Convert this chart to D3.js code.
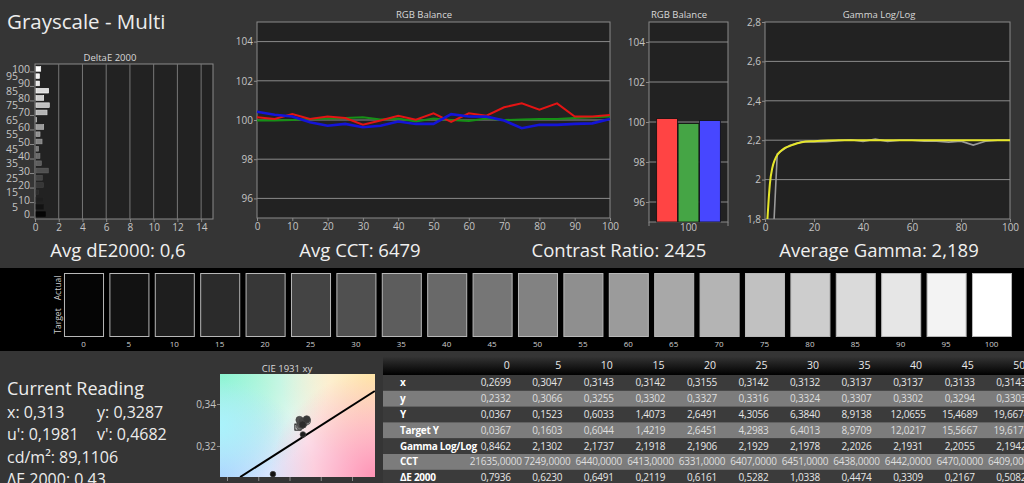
<!DOCTYPE html>
<html>
<head>
<meta charset="utf-8">
<script src="https://cdn.jsdelivr.net/npm/d3@7"></script>
<style>
  body { margin: 0; background: #353535; overflow: hidden; }
  svg { display: block; font-family: "Open Sans", sans-serif; }
  .axis text { fill: #c4c4c4; font-size: 10px; font-family: "Open Sans", sans-serif; }
  .axis path, .axis line { stroke: #8a8a8a; }
  .ctitle { fill: #d8d8d8; font-size: 9.5px; text-anchor: middle; }
  .big { fill: #f0f0f0; font-size: 18.5px; text-anchor: middle; }
</style>
</head>
<body>
<svg id="chart" width="1024" height="483"></svg>
<script>
// stimulus levels (grayscale steps)
const levels = [0, 5, 10, 15, 20, 25, 30, 35, 40, 45, 50, 55, 60, 65, 70, 75, 80, 85, 90, 95, 100];
const deltaE = [0.7936, 0.6230, 0.6491, 0.2119, 0.6161, 0.5282, 1.0338, 0.4474, 0.3309, 0.2167, 0.5082,
  0.34, 0.65, 0.05, 0.93, 1.12, 0.65, 1.07, 0.30, 0.30, 0.40];

const redBalance = [100.14, 100.05, 100.30, 100.05, 100.18, 100.10, 99.76, 99.97, 100.22, 100.02, 100.34,
  99.90, 100.34, 100.22, 100.65, 100.85, 100.53, 100.85, 100.18, 100.18, 100.25];
const greenBalance = [99.98, 99.97, 100.0, 100.05, 100.08, 100.10, 100.14, 100.02, 100.08, 99.92, 100.08,
  100.0, 99.95, 100.08, 100.0, 100.02, 100.05, 100.05, 100.10, 100.14, 100.18];
const blueBalance = [100.42, 100.27, 100.18, 99.88, 99.71, 99.80, 99.63, 99.71, 99.92, 99.80, 99.80,
  100.30, 100.18, 100.17, 99.97, 99.58, 99.76, 99.75, 99.80, 99.83, 100.05];

const balanceBarCategory = ['100'];
const balanceBarValues = [100.17, 99.92, 100.07];

const gammaMeasured = [0.8462, 2.1302, 2.1737, 2.1918, 2.1906, 2.1929, 2.1978, 2.2026, 2.1931, 2.2055, 2.1942,
  2.200, 2.200, 2.195, 2.195, 2.190, 2.195, 2.175, 2.195, 2.200, 2.200];
const gammaTargetX = [1, 2, 3, 4, 5, 6, 8, 10, 15, 20, 30, 100];
const gammaTargetY = [1.80, 1.98, 2.06, 2.10, 2.125, 2.14, 2.16, 2.17, 2.19, 2.195, 2.20, 2.20];

// CIE xy of each step (0..50 from table, rest)
const cieX = [0.2699, 0.3047, 0.3143, 0.3142, 0.3155, 0.3142, 0.3132, 0.3137, 0.3137, 0.3133, 0.3143,
  0.3140, 0.3145, 0.3142, 0.3150, 0.3155, 0.3148, 0.3156, 0.3138, 0.3135, 0.3140];
const cieY = [0.2332, 0.3066, 0.3255, 0.3302, 0.3327, 0.3316, 0.3324, 0.3307, 0.3302, 0.3294, 0.3303,
  0.3305, 0.3310, 0.3308, 0.3315, 0.3318, 0.3312, 0.3320, 0.3300, 0.3298, 0.3302];
const whitePoint = [0.3127, 0.3290];
const locusX = [0.2942, 0.3373];
const locusY = [0.3052, 0.3462];

const tableCols = [0, 5, 10, 15, 20, 25, 30, 35, 40, 45, 50];
const rowLabels = ['x', 'y', 'Y', 'Target Y', 'Gamma Log/Log', 'CCT', 'ΔE 2000'];
const rowX = [0.2699, 0.3047, 0.3143, 0.3142, 0.3155, 0.3142, 0.3132, 0.3137, 0.3137, 0.3133, 0.3143];
const rowY = [0.2332, 0.3066, 0.3255, 0.3302, 0.3327, 0.3316, 0.3324, 0.3307, 0.3302, 0.3294, 0.3303];
const rowLum = [0.0367, 0.1523, 0.6033, 1.4073, 2.6491, 4.3056, 6.3840, 8.9138, 12.0655, 15.4689, 19.6674];
const rowTargetLum = [0.0367, 0.1603, 0.6044, 1.4219, 2.6451, 4.2983, 6.4013, 8.9709, 12.0217, 15.5667, 19.6170];
const rowGamma = [0.8462, 2.1302, 2.1737, 2.1918, 2.1906, 2.1929, 2.1978, 2.2026, 2.1931, 2.2055, 2.1942];
const rowCCT = [21635, 7249, 6440, 6413, 6331, 6407, 6451, 6438, 6442, 6470, 6409];
const rowDE = [0.7936, 0.6230, 0.6491, 0.2119, 0.6161, 0.5282, 1.0338, 0.4474, 0.3309, 0.2167, 0.5082];

const currentReading = [['x: 0,313', 'y: 0,3287'], ["u': 0,1981", "v': 0,4682"], ['cd/m²: 89,1106'], ['ΔE 2000: 0,43']];

const comma = s => String(s).replace('.', ',');
const fmt4 = v => comma(d3.format('.4f')(v));
const grayOf = d3.scaleLinear().domain([0, 100]).range(['#050505', '#ffffff']);

const svg = d3.select('#chart');

// black swatch band
svg.append('rect').attr('x', 0).attr('y', 268).attr('width', 1024).attr('height', 83).attr('fill', '#000');

svg.append('text').attr('x', 7).attr('y', 29).attr('fill', '#ececec').style('font-size', '20.5px')
  .text('Grayscale - Multi');

function frame(x0, x1, y0, y1) {
  svg.append('rect').attr('x', x0).attr('y', y0).attr('width', x1 - x0).attr('height', y1 - y0)
    .attr('fill', '#222').attr('stroke', '#8a8a8a');
}

// ---------- DeltaE 2000 ----------
{
  const x = d3.scaleLinear().domain([0, 15]).range([35, 213]);
  const y = d3.scaleBand().domain(levels.slice().reverse()).range([64, 219]).padding(0.35);
  frame(35, 213, 64, 219);
  svg.append('g').selectAll('line').data(d3.range(2, 15, 2)).join('line')
    .attr('x1', d => x(d)).attr('x2', d => x(d)).attr('y1', 64).attr('y2', 219)
    .attr('stroke', '#777');
  svg.append('g').attr('class', 'axis').attr('transform', 'translate(0,219)')
    .call(d3.axisBottom(x).tickValues(d3.range(0, 15, 2)).tickSize(3).tickPadding(2))
    .call(g => g.select('.domain').remove());
  svg.append('g').selectAll('rect').data(levels).join('rect')
    .attr('x', x(0) + 1).attr('y', (d) => y(d))
    .attr('width', (d, i) => x(deltaE[i]) - x(0)).attr('height', y.bandwidth())
    .attr('fill', d => grayOf(d)).attr('stroke', d => d3.color(grayOf(d)).brighter(0.6)).attr('stroke-width', 0.6);
  const yl = svg.append('g').attr('class', 'axis');
  levels.forEach((d, i) => {
    const even = i % 2 === 0;
    const cy = y(d) + y.bandwidth() / 2;
    yl.append('text').attr('x', even ? 30 : 18).attr('y', cy + 4).attr('text-anchor', 'end')
      .style('font-size', '10.5px').text(d);
    if (even) {
      yl.append('line').attr('x1', 30).attr('x2', 34).attr('y1', cy + 3).attr('y2', cy + 3);
    }
  });
  svg.append('text').attr('class', 'ctitle').attr('x', 110).attr('y', 61).text('DeltaE 2000');
  svg.append('text').attr('class', 'big').attr('x', 118).attr('y', 257).text('Avg dE2000: 0,6');
}

// ---------- RGB Balance lines ----------
{
  const x = d3.scaleLinear().domain([0, 100]).range([257, 610]);
  const y = d3.scaleLinear().domain([95, 105]).range([218, 22]);
  frame(257, 610, 22, 218);
  svg.append('g').selectAll('line').data([96, 98, 100, 102, 104]).join('line')
    .attr('x1', 257).attr('x2', 610).attr('y1', d => y(d)).attr('y2', d => y(d)).attr('stroke', '#8a8a8a');
  svg.append('g').attr('class', 'axis').attr('transform', 'translate(257,0)')
    .call(d3.axisLeft(y).tickValues([96, 98, 100, 102, 104]).tickSize(3).tickPadding(1))
    .call(g => g.select('.domain').remove());
  svg.append('g').attr('class', 'axis').attr('transform', 'translate(0,218)')
    .call(d3.axisBottom(x).tickValues(d3.range(0, 101, 10)).tickSize(3).tickPadding(2))
    .call(g => g.select('.domain').remove());
  const line = vals => d3.line().x((d, i) => x(levels[i])).y(d => y(d))(vals);
  svg.append('path').attr('d', line(greenBalance)).attr('fill', 'none').attr('stroke', '#169016').attr('stroke-width', 2);
  svg.append('path').attr('d', line(redBalance)).attr('fill', 'none').attr('stroke', '#e41414').attr('stroke-width', 2);
  svg.append('path').attr('d', line(blueBalance)).attr('fill', 'none').attr('stroke', '#1414d8').attr('stroke-width', 2.6);
  svg.append('text').attr('class', 'ctitle').attr('x', 424).attr('y', 18).text('RGB Balance');
  svg.append('text').attr('class', 'big').attr('x', 360).attr('y', 257).text('Avg CCT: 6479');
}

// ---------- RGB Balance bars ----------
{
  const x = d3.scaleBand().domain(balanceBarCategory).range([649, 728]).paddingOuter(0.12);
  const sub = d3.scaleBand().domain([0, 1, 2]).range([0, x.bandwidth()]).paddingInner(0.03);
  const y = d3.scaleLinear().domain([95, 105]).range([222, 22]);
  frame(649, 728, 22, 222);
  svg.append('g').selectAll('line').data([96, 98, 100, 102, 104]).join('line')
    .attr('x1', 649).attr('x2', 728).attr('y1', d => y(d)).attr('y2', d => y(d)).attr('stroke', '#8a8a8a');
  svg.append('g').attr('class', 'axis').attr('transform', 'translate(649,0)')
    .call(d3.axisLeft(y).tickValues([96, 98, 100, 102, 104]).tickSize(3).tickPadding(1))
    .call(g => g.select('.domain').remove());
  const colors = ['#ff4444', '#45a545', '#4747ff'];
  svg.append('g').selectAll('rect').data(balanceBarValues).join('rect')
    .attr('x', (d, i) => x('100') + sub(i)).attr('y', d => y(d))
    .attr('width', sub.bandwidth()).attr('height', d => y(95) - y(d))
    .attr('fill', (d, i) => colors[i]).attr('stroke', '#111').attr('stroke-width', 0.8);
  svg.append('g').attr('class', 'axis').attr('transform', 'translate(0,221)')
    .call(d3.axisBottom(x).tickSize(0).tickPadding(3))
    .call(g => g.select('.domain').remove());
  svg.append('g').selectAll('line').data([649, 728]).join('line')
    .attr('x1', d => d).attr('x2', d => d).attr('y1', 222).attr('y2', 226).attr('stroke', '#8a8a8a');
  svg.append('text').attr('class', 'ctitle').attr('x', 679).attr('y', 18).text('RGB Balance');
  svg.append('text').attr('class', 'big').attr('x', 619).attr('y', 257).text('Contrast Ratio: 2425');
}

// ---------- Gamma ----------
{
  const x = d3.scaleLinear().domain([0, 100]).range([765, 1010]);
  const y = d3.scaleLinear().domain([1.8, 2.8]).range([219, 22]);
  frame(765, 1010, 22, 219);
  svg.append('g').selectAll('line').data([2.0, 2.2, 2.4, 2.6]).join('line')
    .attr('x1', 765).attr('x2', 1010).attr('y1', d => y(d)).attr('y2', d => y(d)).attr('stroke', '#8a8a8a');
  svg.append('g').attr('class', 'axis').attr('transform', 'translate(765,0)')
    .call(d3.axisLeft(y).tickValues([1.8, 2.0, 2.2, 2.4, 2.6, 2.8]).tickSize(3).tickPadding(1)
      .tickFormat(d => comma(+d.toFixed(1))))
    .call(g => g.select('.domain').remove());
  svg.append('g').attr('class', 'axis').attr('transform', 'translate(0,219)')
    .call(d3.axisBottom(x).tickValues(d3.range(0, 101, 20)).tickSize(3).tickPadding(2))
    .call(g => g.select('.domain').remove());
  svg.append('clipPath').attr('id', 'gclip').append('rect')
    .attr('x', 765).attr('y', 22).attr('width', 245).attr('height', 197);
  const gg = svg.append('g').attr('clip-path', 'url(#gclip)');
  gg.append('path').attr('d', d3.line().x((d, i) => x(levels[i])).y(d => y(d))(gammaMeasured))
    .attr('fill', 'none').attr('stroke', '#9a9a9a').attr('stroke-width', 1.6);
  gg.append('path').attr('d', d3.line().curve(d3.curveMonotoneX).x((d, i) => x(gammaTargetX[i])).y(d => y(d))(gammaTargetY))
    .attr('fill', 'none').attr('stroke', '#e6e62a').attr('stroke-width', 2);
  svg.append('text').attr('class', 'ctitle').attr('x', 879).attr('y', 18).text('Gamma Log/Log');
  svg.append('text').attr('class', 'big').attr('x', 879).attr('y', 257).text('Average Gamma: 2,189');
}

// ---------- swatches ----------
{
  const x = d3.scaleBand().domain(levels).range([60.8, 1014.2]).paddingInner(0.14).paddingOuter(0.07);
  svg.append('g').selectAll('rect').data(levels).join('rect')
    .attr('x', d => x(d) + 0.5).attr('y', 273.5).attr('width', x.bandwidth()).attr('height', 63)
    .attr('fill', d => grayOf(d)).attr('stroke', '#b8b8b8').attr('stroke-width', 1);
  svg.append('g').selectAll('text').data(levels).join('text')
    .attr('x', d => x(d) + x.bandwidth() / 2).attr('y', 347).attr('text-anchor', 'middle')
    .attr('fill', '#cfcfcf').style('font-size', '8px').text(d => d);
  [['Actual', 288], ['Target', 321]].forEach(([t, cy]) => {
    svg.append('text').attr('transform', `translate(61,${cy}) rotate(-90)`).attr('text-anchor', 'middle')
      .attr('fill', '#cfcfcf').style('font-size', '8.5px').text(t);
  });
}

// ---------- current reading ----------
svg.append('text').attr('x', 7).attr('y', 395).attr('fill', '#ececec').style('font-size', '18px').text('Current Reading');
currentReading.forEach((row, r) => {
  row.forEach((t, c) => {
    svg.append('text').attr('x', c === 0 ? 7 : 97).attr('y', 418 + r * 22.3)
      .attr('fill', '#ececec').style('font-size', '16px').text(t);
  });
});

// ---------- CIE 1931 xy ----------
{
  const x = d3.scaleLinear().domain([0.29, 0.33]).range([227, 352]);
  const y = d3.scaleLinear().domain([0.32, 0.34]).range([446, 404]);
  const px0 = 220, px1 = 375, py0 = 374, py1 = 477;
  const defs = svg.append('defs');
  const corners = [
    ['cTL', px0, py0, '#78f3c0', 0.9, 110],
    ['cTR', px1, py0, '#ffe6a6', 1, 95],
    ['cBL', px0, py1, '#a4caff', 0.9, 95],
    ['cBR', px1, py1, '#ff8eb0', 0.95, 105],
    ['cML', px0, (py0 + py1) / 2, '#a8f6ff', 0.8, 65]
  ];
  corners.forEach(([id, cx, cy, col, op, r]) => {
    const g = defs.append('radialGradient').attr('id', id).attr('gradientUnits', 'userSpaceOnUse')
      .attr('cx', cx).attr('cy', cy).attr('r', r);
    g.append('stop').attr('offset', 0).attr('stop-color', col).attr('stop-opacity', op);
    g.append('stop').attr('offset', 1).attr('stop-color', col).attr('stop-opacity', 0);
  });
  defs.append('clipPath').attr('id', 'cieclip').append('rect')
    .attr('x', px0).attr('y', py0).attr('width', px1 - px0).attr('height', py1 - py0);
  const cg = svg.append('g').attr('clip-path', 'url(#cieclip)');
  cg.append('rect').attr('x', px0).attr('y', py0).attr('width', px1 - px0).attr('height', py1 - py0).attr('fill', '#fbf8fb');
  corners.forEach(([id]) => {
    cg.append('rect').attr('x', px0).attr('y', py0).attr('width', px1 - px0).attr('height', py1 - py0)
      .attr('fill', `url(#${id})`);
  });
  cg.append('path').attr('d', d3.line().x((d, i) => x(d)).y((d, i) => y(locusY[i]))(locusX))
    .attr('stroke', '#000').attr('stroke-width', 2).attr('fill', 'none');
  cg.append('rect').attr('x', x(whitePoint[0]) - 3).attr('y', y(whitePoint[1]) - 3).attr('width', 6).attr('height', 6)
    .attr('fill', '#fff').attr('stroke', '#000').attr('stroke-width', 1);
  const pts = levels.map((d, i) => ({ level: d, x: cieX[i], y: cieY[i] }));
  cg.append('g').selectAll('circle').data(pts.slice().reverse()).join('circle')
    .attr('cx', d => x(d.x)).attr('cy', d => y(d.y)).attr('r', d => d.level <= 10 ? 2.8 : 3.6)
    .attr('fill', d => grayOf(d.level)).attr('stroke', '#444').attr('stroke-width', 0.7);
  svg.append('g').attr('class', 'axis').attr('transform', `translate(${px0},0)`)
    .call(d3.axisLeft(y).tickValues([0.32, 0.34]).tickSize(3).tickPadding(1).tickFormat(d => comma(d3.format('.2f')(d))))
    .call(g => g.select('.domain').remove());
  svg.append('g').attr('class', 'axis').attr('transform', `translate(0,${py1})`)
    .call(d3.axisBottom(x).tickValues([0.29, 0.30, 0.31, 0.32, 0.33]).tickSize(4).tickFormat(''))
    .call(g => g.select('.domain').remove());
  svg.append('text').attr('class', 'ctitle').attr('x', 287).attr('y', 372).text('CIE 1931 xy');
}

// ---------- data table ----------
{
  const rowsData = [rowX, rowY, rowLum, rowTargetLum, rowGamma, rowCCT, rowDE];
  const cx = d3.scaleBand().domain(tableCols).range([469, 1036]);
  const ry = d3.scaleBand().domain(rowLabels).range([375, 375 + 7 * 15.8]);
  const defs = svg.append('defs');
  const hg = defs.append('linearGradient').attr('id', 'hdr').attr('x1', 0).attr('x2', 0).attr('y1', 0).attr('y2', 1);
  hg.append('stop').attr('offset', 0).attr('stop-color', '#363636');
  hg.append('stop').attr('offset', 1).attr('stop-color', '#000');
  const t = svg.append('g');
  t.append('rect').attr('x', 383).attr('y', 356).attr('width', 641).attr('height', 19).attr('fill', 'url(#hdr)');
  t.selectAll('rect.row').data(rowLabels).join('rect').attr('class', 'row')
    .attr('x', 383).attr('y', d => ry(d)).attr('width', 641).attr('height', ry.bandwidth() + 0.5)
    .attr('fill', (d, i) => i % 2 === 0 ? '#3b3b3b' : '#7c7c7c');
  t.selectAll('text.hd').data(tableCols).join('text').attr('class', 'hd')
    .attr('x', d => cx(d) + cx.bandwidth() / 2 + 15).attr('y', 369).attr('text-anchor', 'end')
    .attr('fill', '#e8e8e8').style('font-size', '10.5px').text(d => d);
  t.selectAll('text.lb').data(rowLabels).join('text').attr('class', 'lb')
    .attr('x', 400).attr('y', d => ry(d) + ry.bandwidth() / 2 + 3.5)
    .attr('fill', '#fff').style('font-size', '10px').style('font-weight', 'bold')
    .style('letter-spacing', '-0.3px').text(d => d);
  rowsData.forEach((vals, r) => {
    t.append('g').selectAll('text').data(vals).join('text')
      .attr('x', (d, i) => cx(tableCols[i]) + cx.bandwidth() / 2 + 1)
      .attr('y', ry(rowLabels[r]) + ry.bandwidth() / 2 + 3.5)
      .attr('text-anchor', 'middle').attr('fill', r % 2 === 0 ? '#e6e6e6' : '#dedede')
      .style('font-size', '10px').style('letter-spacing', '-0.2px').text(d => fmt4(d));
  });
}
</script>
</body>
</html>
